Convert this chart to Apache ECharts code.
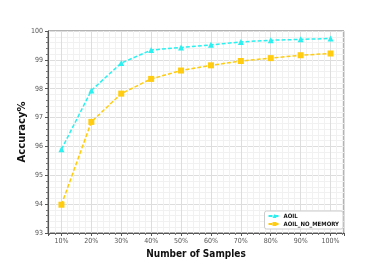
<!DOCTYPE html>
<html>
<head>
<meta charset="utf-8">
<script src="https://cdn.jsdelivr.net/npm/echarts@6/dist/echarts.min.js"></script>
<style>html,body{margin:0;padding:0;background:#fff;}#c{width:382px;height:263px;}</style>
</head>
<body>
<div id="c"></div>
<script>
const samplePercents = [10, 20, 30, 40, 50, 60, 70, 80, 90, 100];
const aoil = [95.9, 97.94, 98.89, 99.34, 99.43, 99.52, 99.62, 99.68, 99.71, 99.74];
const aoilNoMemory = [93.98, 96.85, 97.83, 98.34, 98.63, 98.81, 98.96, 99.06, 99.16, 99.22];
const seriesNames = ['AOIL', 'AOIL_NO_MEMORY'];
const xTitle = 'Number of Samples';
const yTitle = 'Accuracy%';

const chart = echarts.init(document.getElementById('c'), null, {renderer: 'canvas'});
const pair = (vals) => samplePercents.map((x, i) => [x, vals[i]]);
chart.setOption({
  animation: false,
  backgroundColor: '#fff',
  grid: {left: 48, top: 31, right: 38, bottom: 30, show: true, borderColor: '#666', borderWidth: 1,
    outerBoundsMode: 'none', containLabel: false},
  xAxis: {
    type: 'value', min: 5.5, max: 104.5, splitNumber: 10,
    name: xTitle, nameLocation: 'middle', nameGap: 16, nameMoveOverlap: false,
    nameTextStyle: {fontFamily: 'DejaVu Sans Condensed', fontWeight: 'bold', fontSize: 10, color: '#111'},
    axisLine: {show: true, lineStyle: {color: '#555'}},
    axisTick: {show: true, length: 3, lineStyle: {color: '#555'}},
    minorTick: {show: true, splitNumber: 5, length: 2, lineStyle: {color: '#777'}},
    axisLabel: {fontFamily: 'DejaVu Sans Condensed', fontSize: 7, color: '#555', margin: 5,
      formatter: v => (Math.abs(v % 10) < 1e-9 ? v + '%' : '')},
    splitLine: {show: true, lineStyle: {color: '#ddd', width: 1}},
    minorSplitLine: {show: true, lineStyle: {color: '#f1f1f1', width: 1}}
  },
  yAxis: {
    type: 'value', min: 93, max: 100, interval: 1,
    name: yTitle, nameLocation: 'middle', nameGap: 21, nameMoveOverlap: false,
    nameTextStyle: {fontFamily: 'DejaVu Sans', fontWeight: 'bold', fontSize: 10, color: '#111'},
    axisLine: {show: true, lineStyle: {color: '#555'}},
    axisTick: {show: true, length: 3, lineStyle: {color: '#555'}},
    minorTick: {show: true, splitNumber: 5, length: 2, lineStyle: {color: '#777'}},
    axisLabel: {fontFamily: 'DejaVu Sans Condensed', fontSize: 7, color: '#555', margin: 5},
    splitLine: {show: true, lineStyle: {color: '#ddd', width: 1}},
    minorSplitLine: {show: true, lineStyle: {color: '#f1f1f1', width: 1}}
  },
  legend: {
    orient: 'vertical', right: 39, bottom: 34,
    backgroundColor: '#fff', borderColor: '#ccc', borderWidth: 1, borderRadius: 2,
    padding: [2, 4, 2, 3], itemWidth: 12, itemHeight: 5, itemGap: 2,
    textStyle: {fontFamily: 'DejaVu Sans Condensed', fontSize: 6, fontWeight: 'bold', color: '#111', padding: [0, 0, 0, -2]},
    data: seriesNames
  },
  series: [
    {name: seriesNames[0], type: 'line', data: pair(aoil), color: '#2cf0f0',
      symbol: 'triangle', symbolSize: 6,
      lineStyle: {type: [4, 2], width: 1.5}},
    {name: seriesNames[1], type: 'line', data: pair(aoilNoMemory), color: '#ffcc11',
      symbol: 'rect', symbolSize: 6,
      lineStyle: {type: [4, 2], width: 1.5}}
  ]
});
</script>
</body>
</html>
